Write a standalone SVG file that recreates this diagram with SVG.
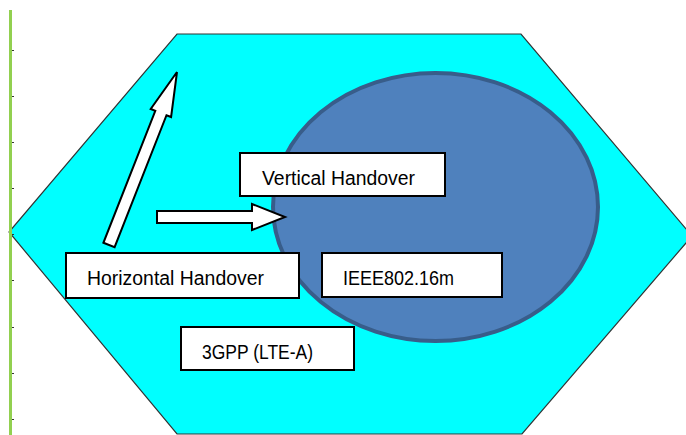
<svg xmlns="http://www.w3.org/2000/svg" width="686" height="435" viewBox="0 0 686 435">
<style>
.box{fill:#ffffff;stroke:#000000;stroke-width:2}
.lbl{font-family:"Liberation Sans",Arial,sans-serif;font-size:20px;fill:#000000}
.arr{fill:#ffffff;stroke:#000000;stroke-width:2;stroke-linejoin:miter}
.tick{fill:#333333}
</style>
<rect x="0" y="0" width="686" height="435" fill="#ffffff"/>
<g id="hexagon">
<polygon points="177,34 521,34 692,236 522,434 177,434 9,232" fill="#00ffff" stroke="#333333" stroke-width="1.2"/>
</g>
<g id="margin">
<rect x="9" y="10" width="3" height="425" fill="#92d050"/>
<rect class="tick" x="12" y="50" width="2" height="1"/>
<rect class="tick" x="12" y="96" width="2" height="1"/>
<rect class="tick" x="12" y="142" width="2" height="1"/>
<rect class="tick" x="12" y="188" width="2" height="1"/>
<rect class="tick" x="12" y="234" width="2" height="1"/>
<rect class="tick" x="12" y="280" width="2" height="1"/>
<rect class="tick" x="12" y="327" width="2" height="1"/>
<rect class="tick" x="12" y="373" width="2" height="1"/>
<rect class="tick" x="12" y="419" width="2" height="1"/>
</g>
<g id="ieee-cell">
<ellipse cx="435.5" cy="207" rx="162.5" ry="134" fill="#4f81bd" stroke="#385d8a" stroke-width="4"/>
</g>
<g id="connectors">
<polygon class="arr" points="103.4,242.8 114.6,247.2 166.5,115.2 171.1,117 177,72 150.7,109 155.3,110.8"/>
<polygon class="arr" points="157,211 252,211 252,204 285,217 252,230 252,223 157,223"/>
</g>
<g id="vertical-handover">
<rect class="box" x="240" y="153" width="205" height="43"/>
<text class="lbl" x="262" y="185" textLength="153" lengthAdjust="spacingAndGlyphs">Vertical Handover</text>
</g>
<g id="horizontal-handover">
<rect class="box" x="66" y="253" width="233" height="45"/>
<text class="lbl" x="87" y="285" textLength="177" lengthAdjust="spacingAndGlyphs">Horizontal Handover</text>
</g>
<g id="ieee80216m">
<rect class="box" x="322" y="253" width="180" height="44"/>
<text class="lbl" x="343" y="285" textLength="111" lengthAdjust="spacingAndGlyphs">IEEE802.16m</text>
</g>
<g id="3gpp">
<rect class="box" x="181" y="327" width="173" height="43"/>
<text class="lbl" x="202" y="359" textLength="111" lengthAdjust="spacingAndGlyphs">3GPP (LTE-A)</text>
</g>
</svg>
